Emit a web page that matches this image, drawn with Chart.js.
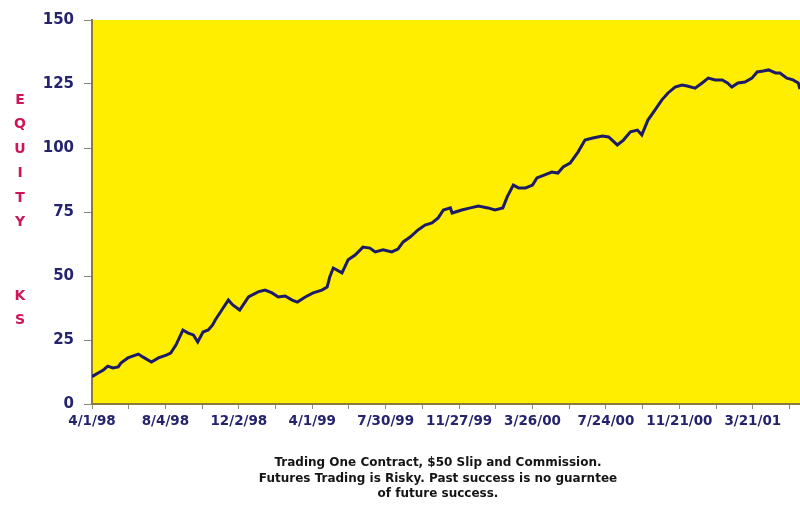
<!DOCTYPE html>
<html lang="en">
<head>
    <meta charset="UTF-8">
    <title>Equity Curve</title>
    <script src="https://cdn.jsdelivr.net/npm/chart.js"></script>
    <style>
        body {
            margin: 0;
            background-color: #FFFFFF;
        }

        #chartContainer {
            width: 800px;
            height: 505px;
        }
    </style>
</head>
<body>
    <div id="chartContainer">
        <canvas id="equityChart" width="800" height="505"></canvas>
    </div>

    <script>
        // Tick labels, one every 84 bars
        const tickLabels = ['4/1/98', '8/4/98', '12/2/98', '4/1/99', '7/30/99', '11/27/99', '3/26/00', '7/24/00', '11/21/00', '3/21/01'];

        // Bar index (trading days from 4/1/98) and equity in thousands
        const bars = [0, 7, 13, 18, 24, 30, 33, 41, 53, 58,
            68, 76, 85, 90, 96, 104, 110, 116, 121, 127,
            133, 138, 141, 150, 156, 161, 169, 179, 190, 198,
            206, 213, 221, 229, 235, 244, 253, 263, 269, 272,
            276, 286, 293, 301, 310, 318, 324, 333, 343, 350,
            356, 364, 373, 381, 389, 396, 402, 410, 412, 423,
            433, 442, 453, 461, 470, 475, 482, 488, 496, 504,
            509, 518, 526, 533, 539, 547, 556, 564, 573, 584,
            591, 601, 608, 616, 624, 629, 636, 644, 652, 659,
            667, 675, 681, 690, 698, 705, 713, 721, 727, 732,
            739, 747, 755, 761, 768, 774, 782, 787, 795, 802,
            808, 810];
        const equity = [10.7, 12.1, 13.3, 14.8, 14.1, 14.5, 16.0, 18.0, 19.5, 18.4,
            16.4, 18.0, 19.1, 19.9, 23.0, 28.9, 27.7, 27.0, 24.2, 28.1,
            28.9, 30.9, 32.8, 37.5, 40.6, 38.7, 36.7, 41.8, 43.8, 44.5,
            43.4, 41.8, 42.2, 40.6, 39.8, 41.8, 43.4, 44.5, 45.7, 49.6,
            53.1, 51.2, 56.3, 58.2, 61.3, 60.9, 59.4, 60.2, 59.4, 60.5,
            63.3, 65.2, 68.0, 69.9, 70.7, 72.7, 75.8, 76.6, 74.6, 75.8,
            76.6, 77.3, 76.6, 75.8, 76.6, 80.9, 85.5, 84.4, 84.4, 85.5,
            88.3, 89.5, 90.6, 90.2, 92.6, 94.1, 98.4, 103.1, 103.9, 104.7,
            104.3, 101.2, 103.1, 106.3, 107.0, 105.1, 110.9, 114.8, 118.8, 121.5,
            123.8, 124.6, 124.2, 123.4, 125.4, 127.3, 126.6, 126.6, 125.4, 123.8,
            125.4, 125.8, 127.3, 129.7, 130.1, 130.5, 129.3, 129.3, 127.3, 126.6,
            125.4, 123.0];

        const yTitle = ['E', 'Q', 'U', 'I', 'T', 'Y', '', '', 'K', 'S'];
        const caption = [
            'Trading One Contract, $50 Slip and Commission.',
            'Futures Trading is Risky. Past success is no guarntee',
            'of future success.'
        ];

        const navy = '#25236e';

        // yellow plot area, vertical title and caption
        const decorations = {
            id: 'decorations',
            beforeDraw(chart) {
                const { ctx, chartArea } = chart;
                ctx.save();
                ctx.fillStyle = '#FFEE00';
                ctx.fillRect(chartArea.left, chartArea.top, chartArea.right - chartArea.left, chartArea.bottom - chartArea.top);
                ctx.restore();
            },
            afterDraw(chart) {
                const ctx = chart.ctx;
                ctx.save();
                ctx.textAlign = 'center';
                ctx.textBaseline = 'middle';
                ctx.fillStyle = '#D0145A';
                ctx.font = 'bold 14px "DejaVu Sans"';
                yTitle.forEach((ch, i) => {
                    if (ch) ctx.fillText(ch, 20, 100 + i * 24.5);
                });
                ctx.fillStyle = '#151515';
                ctx.font = 'bold 12px "DejaVu Sans"';
                caption.forEach((line, i) => {
                    ctx.fillText(line, 438, 463 + i * 15.5);
                });
                ctx.restore();
            }
        };

        const ctx = document.getElementById('equityChart').getContext('2d');
        const equityChart = new Chart(ctx, {
            type: 'line',
            data: {
                datasets: [{
                    label: 'Equity',
                    data: bars.map((b, i) => ({ x: b, y: equity[i] })),
                    borderColor: '#1d1a66',
                    borderWidth: 3,
                    pointRadius: 0,
                    tension: 0,
                    fill: false
                }]
            },
            options: {
                responsive: false,
                animation: false,
                layout: {
                    padding: { top: 20, right: 0, bottom: 0, left: 0 }
                },
                scales: {
                    x: {
                        type: 'linear',
                        min: 0,
                        max: 810,
                        afterFit: (scale) => { scale.height = 101; },
                        border: { display: true, color: '#8c7a3a', width: 2 },
                        grid: {
                            drawOnChartArea: false,
                            drawTicks: true,
                            tickLength: 5,
                            color: '#8c8c7a'
                        },
                        ticks: {
                            stepSize: 42,
                            includeBounds: false,
                            autoSkip: false,
                            maxRotation: 0,
                            padding: 4,
                            color: navy,
                            font: { family: 'DejaVu Sans', size: 13.5, weight: 'bold' },
                            callback: (v) => (v % 84 === 0 ? tickLabels[v / 84] : '')
                        }
                    },
                    y: {
                        min: 0,
                        max: 150,
                        afterFit: (scale) => { scale.width = 92; },
                        border: { display: true, color: '#8c7a3a', width: 2 },
                        grid: {
                            drawOnChartArea: false,
                            drawTicks: true,
                            tickLength: 8,
                            color: '#8c8c7a'
                        },
                        ticks: {
                            stepSize: 25,
                            padding: 10,
                            color: navy,
                            font: { family: 'DejaVu Sans', size: 15, weight: 'bold' }
                        }
                    }
                },
                plugins: {
                    legend: { display: false },
                    tooltip: { enabled: false }
                }
            },
            plugins: [decorations]
        });
    </script>
</body>
</html>
